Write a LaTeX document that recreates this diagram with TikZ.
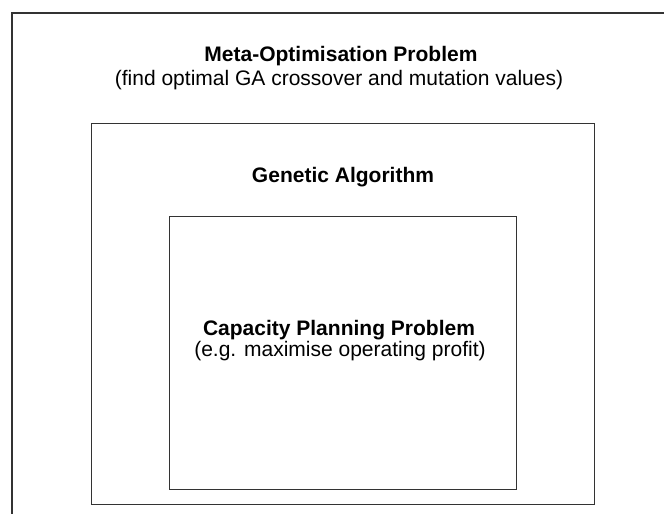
\documentclass[tikz,border=0pt]{standalone}
\usepackage{fontspec}
\setmainfont{Liberation Sans}
\usetikzlibrary{positioning}

\begin{document}
\begin{tikzpicture}[
      x=1pt,y=-1pt,
      frame/.style={draw=black!80,line width=1pt,inner sep=0pt},
      heading/.style={font=\fontsize{21}{24}\selectfont\bfseries,inner sep=0pt,anchor=base},
      remark/.style={font=\fontsize{21}{24}\selectfont,inner sep=0pt,anchor=base}
    ]
      \useasboundingbox (0,0) rectangle (664,514);
      % outer problem, cut at the page edge
      \coordinate (outerR) at (664,13);
      \coordinate (outerC) at (12,13);
      \coordinate (outerB) at (12,514);
      \draw[frame,line width=1.3pt] (outerR) -- (outerC) -- (outerB);
      \node[frame,minimum width=503pt,minimum height=381pt] (ga) at (342.5,313.5) {};
      \node[frame,minimum width=347pt,minimum height=273pt] (cpp) at (342.5,352.5) {};
      \node[heading] (meta) at (341,61) {Meta-Optimisation Problem};
      \node[remark] (metanote) at (339,85) {(find optimal GA crossover and mutation values)};
      \node[heading] (galabel) at (343,182) {Genetic Algorithm};
      \node[heading] (cpplabel) at (339,335) {Capacity Planning Problem};
      \node[remark] (cppnote) at (340,356) {(e.g. maximise operating profit)};
    \end{tikzpicture}
\end{document}
